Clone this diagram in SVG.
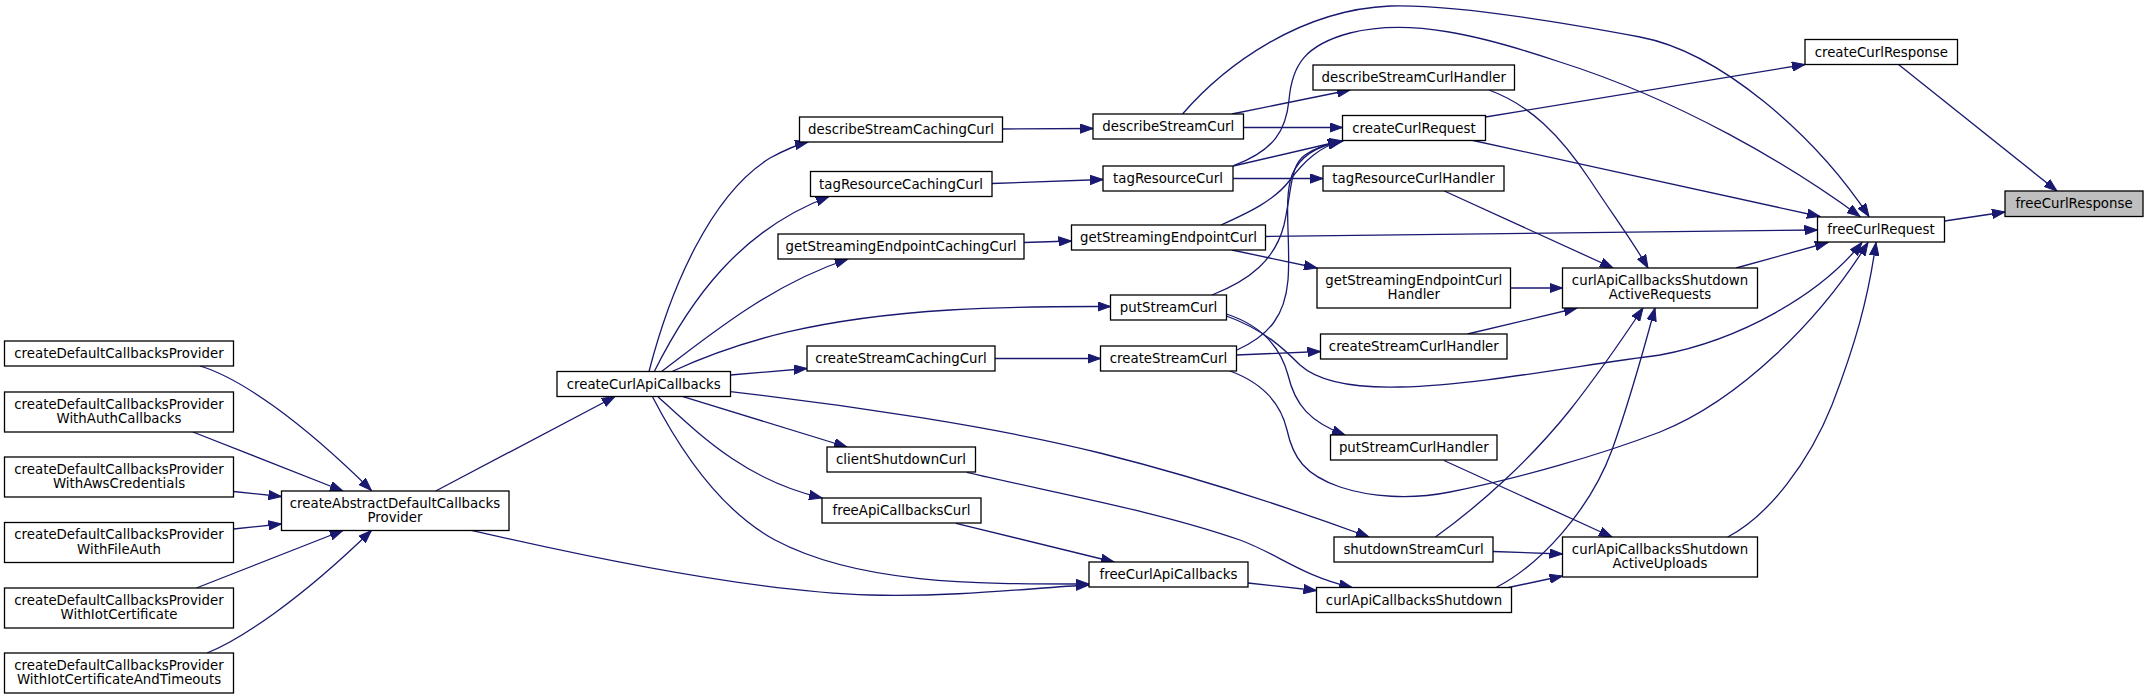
<svg xmlns="http://www.w3.org/2000/svg" width="2148" height="699" viewBox="0 0 2148 699">
<style>
.n rect{fill:#fff;stroke:#000;stroke-width:1.3}
.n.root rect{fill:#bfbfbf}
.n text{font-family:"DejaVu Sans","Liberation Sans",sans-serif;font-size:13.33px;fill:#000;text-anchor:middle}
#edges path{fill:none;stroke:#191970;stroke-width:1.3;marker-end:url(#ah)}
</style>
<defs>
<marker id="ah" markerWidth="14" markerHeight="10" refX="13" refY="5" orient="auto" markerUnits="userSpaceOnUse">
<path d="M0,0.3 L13,5 L0,9.7 z" fill="#191970" stroke="#191970" stroke-width="1"/>
</marker>
</defs>
<rect x="0" y="0" width="2148" height="699" fill="#fff"/>
<g id="edges">
<path d="M1898.5,64.5 L2057,191"/>
<path d="M1944.6,221 L2005,212"/>
<path d="M1485.5,117 L1805,64.5"/>
<path d="M1473,140.5 L1820,216.5"/>
<path d="M1265.5,236.5 L1817.5,230"/>
<path d="M1736,268 L1828,242.5"/>
<path d="M1182.5,114 C1225,65 1300,10 1390,6 C1450,4 1560,22 1640,37 C1720,52 1815,135 1869,216.5"/>
<path d="M1233.6,165.7 C1275,150 1286,130 1289,100 C1292,65 1305,45 1350,33 C1410,18 1480,35 1560,62 C1680,100 1790,165 1860,216.5"/>
<path d="M1226.4,316 C1265,330 1285,350 1300,365 C1320,383 1360,388 1400,387 C1480,385 1580,365 1660,355 C1740,340 1820,295 1862,242.5"/>
<path d="M1230,371 C1260,382 1280,400 1287,430 C1293,458 1305,475 1340,487 C1370,497 1410,500 1450,492 C1520,478 1600,455 1660,432 C1740,400 1820,320 1868,242.5"/>
<path d="M1727.7,537 C1770,515 1810,460 1832,405 C1855,345 1868,300 1876,242.5"/>
<path d="M1489,90 C1530,105 1560,135 1590,180 C1615,218 1635,245 1648,268"/>
<path d="M1444.3,191 L1613,268"/>
<path d="M1510.5,288 L1562.5,288"/>
<path d="M1467.5,334 L1577,308"/>
<path d="M1435.4,537 C1480,505 1530,460 1570,410 C1600,372 1625,335 1643,308"/>
<path d="M1496,587.5 C1540,565 1590,510 1612,450 C1630,400 1645,345 1655,308"/>
<path d="M1444,460.5 L1612,537"/>
<path d="M1493,551.5 L1562.5,554"/>
<path d="M1508.6,587.5 L1562.5,576"/>
<path d="M1231.8,114 L1350,90"/>
<path d="M1243.6,127.5 L1342.5,127.5"/>
<path d="M1233.3,166 L1341,141"/>
<path d="M1221,225 C1250,212 1275,200 1290,180 C1305,160 1320,147 1341,141"/>
<path d="M1212,295 C1250,280 1275,260 1284,225 C1292,190 1290,165 1305,155 C1315,148 1325,145 1342,141"/>
<path d="M1237,350 C1270,335 1285,315 1288,280 C1291,240 1283,200 1292,175 C1300,155 1320,145 1343,141"/>
<path d="M1233.2,178.5 L1323,178.5"/>
<path d="M1231.8,250 L1317,268"/>
<path d="M1236.4,355 L1320.5,351.5"/>
<path d="M1226.4,314 C1260,325 1280,345 1288,375 C1295,405 1310,422 1345,435"/>
<path d="M730.4,391.7 C850,405 1000,428 1100,453 C1200,478 1290,508 1369,537"/>
<path d="M1248,583 L1316.5,590.5"/>
<path d="M966.8,472.3 C1060,494 1160,512 1240,540 C1280,555 1300,575 1352,587.5"/>
<path d="M956,523.3 L1114,562"/>
<path d="M652.5,396.7 C680,450 720,510 775,540 C860,585 980,584 1089,584"/>
<path d="M471.4,530.3 C600,560 760,592 870,595 C960,597 1030,588 1089,585"/>
<path d="M683,396.7 L847,447"/>
<path d="M658,396.7 C700,435 745,480 822,498"/>
<path d="M435.7,491 L615,396.5"/>
<path d="M649,371.5 C670,290 710,195 770,158 C785,150 795,145 808,142"/>
<path d="M654.3,371.5 C690,300 740,230 829,196.5"/>
<path d="M661.4,371.5 C710,335 770,285 848,259"/>
<path d="M672,371.5 C740,340 820,318 950,310 C1020,306 1070,306.5 1110.5,306.5"/>
<path d="M730.4,375 L807,368.5"/>
<path d="M1002.5,129 L1093,128.5"/>
<path d="M991.8,183.5 L1103,179.5"/>
<path d="M1024,242.5 L1071.5,241"/>
<path d="M995,358.5 L1100.5,358.5"/>
<path d="M200,366 C240,378 300,420 371.4,490.5"/>
<path d="M192.9,432 L342.9,491"/>
<path d="M233.5,491.5 L281.5,496.5"/>
<path d="M233.5,529 L281.5,524"/>
<path d="M196.4,588 L342.9,530.5"/>
<path d="M207,653 C240,640 300,600 371.4,530.5"/>
</g>
<g id="n_cDCP" class="n"><rect x="4.5" y="341" width="229" height="25"/><text x="119" y="358">createDefaultCallbacksProvider</text></g>
<g id="n_auth" class="n"><rect x="4.5" y="392" width="229" height="40"/><text x="119" y="408.5">createDefaultCallbacksProvider</text><text x="119" y="423">WithAuthCallbacks</text></g>
<g id="n_aws" class="n"><rect x="4.5" y="457" width="229" height="40"/><text x="119" y="473.5">createDefaultCallbacksProvider</text><text x="119" y="488">WithAwsCredentials</text></g>
<g id="n_file" class="n"><rect x="4.5" y="522.5" width="229" height="40"/><text x="119" y="539">createDefaultCallbacksProvider</text><text x="119" y="553.5">WithFileAuth</text></g>
<g id="n_iot" class="n"><rect x="4.5" y="588" width="229" height="40"/><text x="119" y="604.5">createDefaultCallbacksProvider</text><text x="119" y="619">WithIotCertificate</text></g>
<g id="n_iott" class="n"><rect x="4.5" y="653" width="229" height="40"/><text x="119" y="669.5">createDefaultCallbacksProvider</text><text x="119" y="684">WithIotCertificateAndTimeouts</text></g>
<g id="n_abs" class="n"><rect x="281.5" y="491" width="227.5" height="39.5"/><text x="395" y="507.5">createAbstractDefaultCallbacks</text><text x="395" y="522">Provider</text></g>
<g id="n_ccac" class="n"><rect x="557" y="371.5" width="173.5" height="25"/><text x="643.7" y="388.5">createCurlApiCallbacks</text></g>
<g id="n_dscc" class="n"><rect x="799.5" y="117" width="203" height="25"/><text x="901" y="134">describeStreamCachingCurl</text></g>
<g id="n_trcc" class="n"><rect x="810.5" y="171.5" width="181.5" height="25"/><text x="901" y="188.5">tagResourceCachingCurl</text></g>
<g id="n_gsecc" class="n"><rect x="778" y="234" width="246" height="25"/><text x="901" y="251">getStreamingEndpointCachingCurl</text></g>
<g id="n_cscc" class="n"><rect x="807" y="346" width="188" height="25"/><text x="901" y="363">createStreamCachingCurl</text></g>
<g id="n_csc" class="n"><rect x="827" y="447" width="148.5" height="25"/><text x="901" y="464">clientShutdownCurl</text></g>
<g id="n_facc" class="n"><rect x="822" y="498" width="159" height="25"/><text x="901.5" y="515">freeApiCallbacksCurl</text></g>
<g id="n_dsc" class="n"><rect x="1093" y="114" width="150.5" height="25"/><text x="1168.3" y="131">describeStreamCurl</text></g>
<g id="n_trc" class="n"><rect x="1103" y="166" width="130" height="25"/><text x="1168" y="183">tagResourceCurl</text></g>
<g id="n_gsec" class="n"><rect x="1071.5" y="225" width="194" height="25"/><text x="1168.5" y="242">getStreamingEndpointCurl</text></g>
<g id="n_psc" class="n"><rect x="1110.5" y="295" width="116" height="25"/><text x="1168.5" y="312">putStreamCurl</text></g>
<g id="n_cstc" class="n"><rect x="1100.5" y="346" width="136" height="25"/><text x="1168.5" y="363">createStreamCurl</text></g>
<g id="n_fcac" class="n"><rect x="1089" y="562" width="159" height="25"/><text x="1168.5" y="579">freeCurlApiCallbacks</text></g>
<g id="n_dsch" class="n"><rect x="1313" y="65" width="201.5" height="25"/><text x="1413.8" y="82">describeStreamCurlHandler</text></g>
<g id="n_ccr" class="n"><rect x="1342.5" y="115.5" width="143" height="25"/><text x="1414" y="132.5">createCurlRequest</text></g>
<g id="n_trch" class="n"><rect x="1323" y="166" width="181" height="25"/><text x="1413.5" y="183">tagResourceCurlHandler</text></g>
<g id="n_gsech" class="n"><rect x="1317" y="268" width="193.5" height="40"/><text x="1413.8" y="284.5">getStreamingEndpointCurl</text><text x="1413.8" y="299">Handler</text></g>
<g id="n_csch" class="n"><rect x="1320.5" y="334" width="186.5" height="25"/><text x="1413.8" y="351">createStreamCurlHandler</text></g>
<g id="n_psch" class="n"><rect x="1330.5" y="435" width="166.5" height="25"/><text x="1413.8" y="452">putStreamCurlHandler</text></g>
<g id="n_ssc" class="n"><rect x="1334" y="537" width="159" height="25"/><text x="1413.5" y="554">shutdownStreamCurl</text></g>
<g id="n_cacs" class="n"><rect x="1316.5" y="587.5" width="195" height="25"/><text x="1414" y="604.5">curlApiCallbacksShutdown</text></g>
<g id="n_req" class="n"><rect x="1562.5" y="268" width="195" height="40"/><text x="1660" y="284.5">curlApiCallbacksShutdown</text><text x="1660" y="299">ActiveRequests</text></g>
<g id="n_upl" class="n"><rect x="1562.5" y="537" width="195" height="40"/><text x="1660" y="553.5">curlApiCallbacksShutdown</text><text x="1660" y="568">ActiveUploads</text></g>
<g id="n_ccresp" class="n"><rect x="1805" y="39.5" width="152.5" height="25"/><text x="1881.3" y="56.5">createCurlResponse</text></g>
<g id="n_fcreq" class="n"><rect x="1817.5" y="217" width="127" height="25"/><text x="1881" y="234">freeCurlRequest</text></g>
<g id="n_fcresp" class="n root"><rect x="2005" y="191" width="138" height="25.5"/><text x="2074" y="208">freeCurlResponse</text></g>
</svg>
